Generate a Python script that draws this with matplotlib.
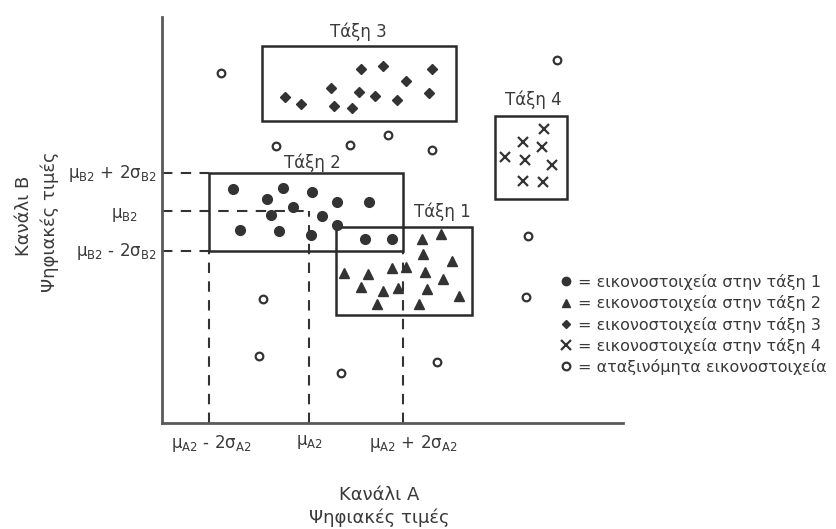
import matplotlib
matplotlib.use("Agg")
import matplotlib.pyplot as plt
from matplotlib.patches import Rectangle
from matplotlib.lines import Line2D

plt.rcParams['font.family'] = ['DejaVu Sans']
plt.rcParams['mathtext.fontset'] = 'dejavusans'

# ---- data (digital values, channel A = x, channel B = y) ----
class1_x = [260, 279, 261, 290, 244, 230, 182, 206, 263, 281, 199, 221, 236, 265, 297, 215, 257]
class1_y = [184, 189, 169, 162, 156, 155, 150, 149, 151, 144, 136, 132, 135, 134, 127, 119, 119]

class2_x = [71, 121, 150, 105, 175, 207, 131, 109, 160, 175, 78, 117, 149, 203, 230]
class2_y = [234, 235, 231, 224, 221, 221, 216, 208, 207, 198, 193, 192, 188, 184, 184]

class3_x = [123, 139, 169, 172, 190, 197, 199, 213, 221, 235, 244, 267, 270]
class3_y = [326, 319, 335, 317, 315, 331, 354, 327, 357, 323, 342, 330, 354]

class4_x = [382, 361, 380, 343, 363, 390, 361, 381]
class4_y = [294, 281, 276, 266, 263, 258, 242, 241]

uncl_x = [59, 395, 114, 188, 226, 270, 366, 101, 364, 97, 275, 179]
uncl_y = [350, 363, 277, 278, 288, 273, 187, 124, 126, 67, 61, 50]

# class boxes: x_min, x_max, y_min, y_max
box_names = ["Τάξη 1", "Τάξη 2", "Τάξη 3", "Τάξη 4"]
box_xmin = [174, 47, 100, 333]
box_xmax = [310, 241, 294, 405]
box_ymin = [108, 172, 302, 224]
box_ymax = [196, 250, 377, 307]

mu_A2 = 147
mu_B2 = 212

x_tick_labels = [r"μ$_{\mathrm{A2}}$ - 2σ$_{\mathrm{A2}}$", r"μ$_{\mathrm{A2}}$", r"μ$_{\mathrm{A2}}$ + 2σ$_{\mathrm{A2}}$"]
y_tick_labels = [r"μ$_{\mathrm{B2}}$ + 2σ$_{\mathrm{B2}}$", r"μ$_{\mathrm{B2}}$", r"μ$_{\mathrm{B2}}$ - 2σ$_{\mathrm{B2}}$"]

legend_labels = ["= εικονοστοιχεία στην τάξη 1",
                 "= εικονοστοιχεία στην τάξη 2",
                 "= εικονοστοιχεία στην τάξη 3",
                 "= εικονοστοιχεία στην τάξη 4",
                 "= αταξινόμητα εικονοστοιχεία"]

# ---- figure ----
W, H = 837, 529
fig = plt.figure(figsize=(W / 100, H / 100), dpi=100)
ax = fig.add_axes([162 / W, (H - 423) / H, (623 - 162) / W, (423 - 17) / H])
ax.set_xlim(0, 461)
ax.set_ylim(0, 406)
for s in ['top', 'right']:
    ax.spines[s].set_visible(False)
for s in ['left', 'bottom']:
    ax.spines[s].set_color('#5a5a5a')
    ax.spines[s].set_linewidth(2)
ax.set_xticks([])
ax.set_yticks([])

mk = '#333333'
txt = '#3a3a3a'

# dashed guide lines
dash = dict(color='#333333', lw=1.5, ls=(0, (5, 4)), zorder=1)
x_lo = box_xmin[1]
x_hi = box_xmax[1]
y_lo = box_ymin[1]
y_hi = box_ymax[1]
ax.plot([0, x_lo], [y_hi, y_hi], **dash)
ax.plot([0, x_lo], [y_lo, y_lo], **dash)
ax.plot([0, mu_A2], [mu_B2, mu_B2], **dash)
ax.plot([x_lo, x_lo], [0, y_lo], **dash)
ax.plot([mu_A2, mu_A2], [0, mu_B2], **dash)
ax.plot([x_hi, x_hi], [0, y_lo], **dash)

# boxes
for name, x0, x1, y0, y1 in zip(box_names, box_xmin, box_xmax, box_ymin, box_ymax):
    ax.add_patch(Rectangle((x0, y0), x1 - x0, y1 - y0, fill=False,
                           ec='#2a2a2a', lw=1.8, zorder=2))

title_pos = [(280, 211), (150, 260), (196, 391), (371, 323)]
for name, (tx, ty) in zip(box_names, title_pos):
    ax.text(tx, ty, name, ha='center', va='center', fontsize=12, color=txt)

# points
ax.plot(class2_x, class2_y, 'o', color=mk, ms=7, ls='none', zorder=3)
ax.plot(class1_x, class1_y, '^', color=mk, ms=7, ls='none', zorder=3)
ax.plot(class3_x, class3_y, 'D', color=mk, ms=4.8, ls='none', zorder=3)
ax.plot(class4_x, class4_y, 'x', color=mk, ms=7, mew=1.6, ls='none', zorder=3)
ax.plot(uncl_x, uncl_y, 'o', mfc='white', mec=mk, ms=5.5, mew=1.6, ls='none', zorder=3)

# tick labels
x_ticks = [x_lo, mu_A2, x_hi]
x_shift = [2, 0, 10]
for xv, dx, lab in zip(x_ticks, x_shift, x_tick_labels):
    ax.text(xv + dx, -10, lab, ha='center', va='top', fontsize=12, color=txt, clip_on=False)
y_ticks = [y_hi, mu_B2, y_lo]
for i, (yv, lab) in enumerate(zip(y_ticks, y_tick_labels)):
    xpos = -5 if i != 1 else -24
    dy = 0 if i != 1 else -4
    ax.text(xpos, yv + dy, lab, ha='right', va='center', fontsize=12, color=txt, clip_on=False)

# axis labels
fig.text(379 / W, 1 - 495 / H, "Κανάλι Α", ha='center', va='center', fontsize=13, color=txt)
fig.text(379 / W, 1 - 518 / H, "Ψηφιακές τιμές", ha='center', va='center', fontsize=13, color=txt)
fig.text(24 / W, 1 - 216 / H, "Κανάλι Β", ha='center', va='center', rotation=90, fontsize=13, color=txt)
fig.text(50 / W, 1 - 222 / H, "Ψηφιακές τιμές", ha='center', va='center', rotation=90, fontsize=13, color=txt)

# legend
handles = [
    Line2D([], [], marker='o', color=mk, ms=6, ls='none'),
    Line2D([], [], marker='^', color=mk, ms=6, ls='none'),
    Line2D([], [], marker='D', color=mk, ms=4, ls='none'),
    Line2D([], [], marker='x', color=mk, ms=7, mew=1.6, ls='none'),
    Line2D([], [], marker='o', mfc='white', mec=mk, ms=5.5, mew=1.6, ls='none'),
]
leg = fig.legend(handles, legend_labels, loc='upper left',
                 bbox_to_anchor=(561 / W, 1 - 274 / H), frameon=False,
                 fontsize=11.5, handlelength=0.6, handletextpad=0.45,
                 labelspacing=0.33, borderpad=0, borderaxespad=0)
for t in leg.get_texts():
    t.set_color(txt)

fig.savefig("out.png", dpi=100)
